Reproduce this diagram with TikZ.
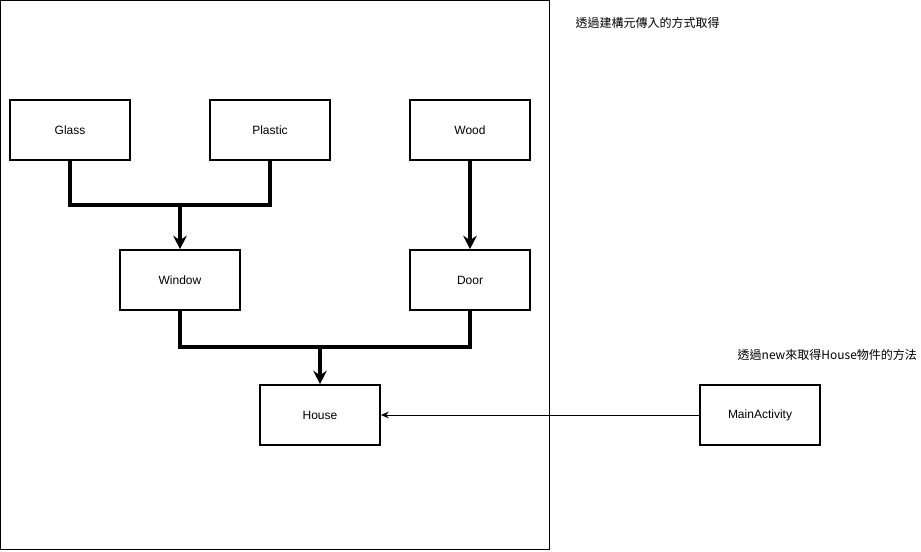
\documentclass[tikz,border=0pt]{standalone}
\usepackage{fontspec}
\setmainfont{Liberation Sans}
\newfontfamily\cjk{Noto Sans CJK TC}
\usetikzlibrary{arrows.meta}

\begin{document}
\begin{tikzpicture}[x=0.75pt, y=-0.75pt,
    >={Stealth[length=10pt, width=10pt]},
    cls/.style={draw, line width=1.2pt, minimum width=90pt, minimum height=45pt,
                inner sep=0pt, font=\fontsize{9}{11}\selectfont},
    wire/.style={line width=3pt},
    note/.style={anchor=west, font=\cjk\fontsize{9}{11}\selectfont}]
  \useasboundingbox (0,0) rectangle (921,551);

  % outer frame
  \draw[line width=0.9pt] (0.5,0.5) rectangle (549.5,549.5);

  % classes
  \node[cls] (glass)   at (70,130)  {Glass};
  \node[cls] (plastic) at (270,130) {Plastic};
  \node[cls] (wood)    at (470,130) {Wood};
  \node[cls] (window)  at (180,280) {Window};
  \node[cls] (door)    at (470,280) {Door};
  \node[cls] (house)   at (320,415) {House};
  \node[cls] (main)    at (760,415) {MainActivity};

  % junctions
  \coordinate (wj) at (180,205);
  \coordinate (hj) at (320,347);

  % Glass + Plastic -> Window
  \draw[wire] (glass.south) |- (wj);
  \draw[wire] (plastic.south) |- (wj);
  \draw[wire, ->] (wj) -- (window.north);

  % Wood -> Door
  \draw[wire, ->] (wood.south) -- (door.north);

  % Window + Door -> House
  \draw[wire] (window.south) |- (hj);
  \draw[wire] (door.south) |- (hj);
  \draw[wire, ->] (hj) -- (house.north);

  % MainActivity -> House
  \draw[line width=0.75pt, -{Stealth[length=6pt, width=5pt]}] (main.west) -- (house.east);

  % notes
  \node[note] (n1) at (571,23)  {透過建構元傳入的方式取得};
  \node[note] (n2) at (733,355) {透過new來取得House物件的方法};
\end{tikzpicture}
\end{document}
